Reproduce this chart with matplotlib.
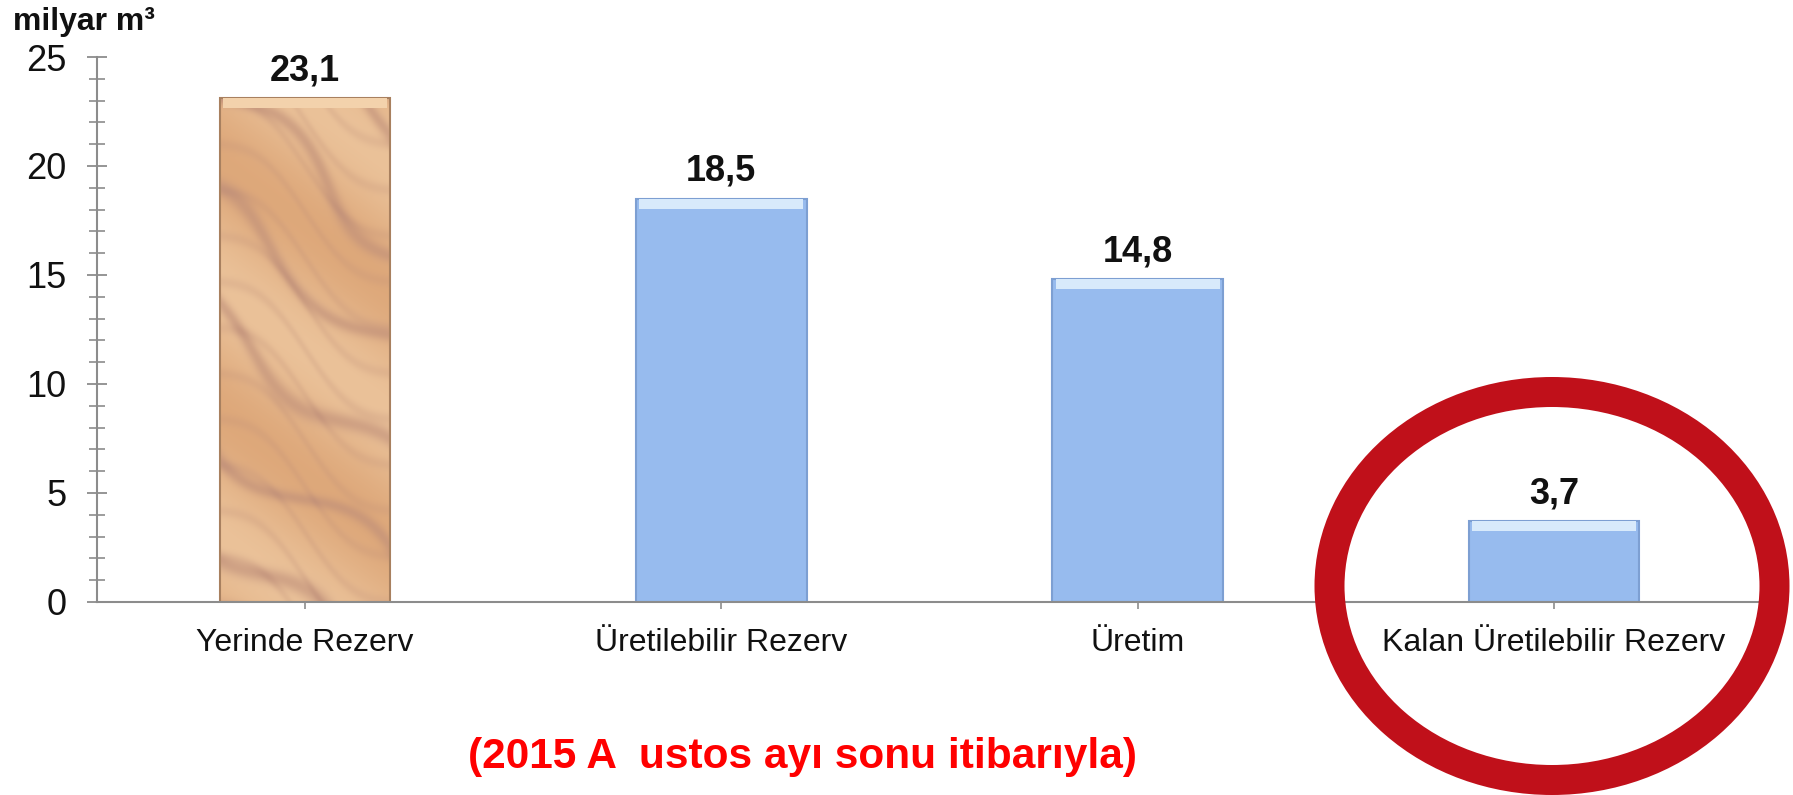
import numpy as np
import matplotlib
matplotlib.use('Agg')
import matplotlib.pyplot as plt
from matplotlib.patches import Ellipse

plt.rcParams['font.family'] = ['Liberation Sans', 'DejaVu Sans']

categories = ['Yerinde Rezerv', 'Üretilebilir Rezerv', 'Üretim', 'Kalan Üretilebilir Rezerv']
values = [23.1, 18.5, 14.8, 3.7]
value_labels = ['23,1', '18,5', '14,8', '3,7']
y_ticks = [0, 5, 10, 15, 20, 25]
unit_label = 'milyar m³'
note = '(2015 A  ustos ayı sonu itibarıyla)'


def sandstone(h=520, w=200):
    # decorative sandstone texture for the first bar: thin wavy veins on tan
    yy, xx = np.mgrid[0:h, 0:w]
    u = yy / h
    v = xx / w
    phase = 4.5 * u - 1.2 * v + 0.22 * np.sin(2 * np.pi * (0.6 * v + 0.9 * u)) \
        + 0.06 * np.sin(2 * np.pi * 2.5 * u)
    veins = (0.5 + 0.5 * np.cos(2 * np.pi * phase)) ** 14
    soft = 0.5 + 0.5 * np.sin(2 * np.pi * (2.0 * u - 0.5 * v))
    fine = (0.5 + 0.5 * np.cos(2 * np.pi * (11 * u - 3 * v + 0.4 * np.sin(2 * np.pi * v)))) ** 6
    light = np.array([0.92, 0.76, 0.60])
    mid = np.array([0.87, 0.66, 0.48])
    dark = np.array([0.74, 0.55, 0.47])
    img = light * (1 - soft[..., None]) + mid * soft[..., None]
    t = 0.55 * veins[..., None] + 0.2 * fine[..., None]
    img = img * (1 - t) + dark * t
    return np.clip(img, 0, 1)


fig = plt.figure(figsize=(17.93, 7.95), dpi=100)
ax = fig.add_axes([0.0541, 0.2428, 0.9286, 0.6855])

x = np.arange(len(categories))
width = 0.41
bevel = 0.45
face = ['none', '#97BBEE', '#97BBEE', '#97BBEE']
edges = ['#A8805F', '#7D9FD2', '#7D9FD2', '#7D9FD2']
tops = ['#F3D2AC', '#D8EAFB', '#D8EAFB', '#D8EAFB']

bars = ax.bar(x, values, width=width, color=face, edgecolor=edges, linewidth=1.5, zorder=2)

# texture fill for the first bar
im = ax.imshow(sandstone(), extent=[x[0] - width / 2, x[0] + width / 2, 0, values[0]],
               aspect='auto', zorder=1.5, interpolation='bilinear')
im.set_clip_path(bars[0])

# light bevel on top of each bar
ax.bar(x, [bevel] * len(values), bottom=[v - bevel for v in values], width=width * 0.96,
       color=tops, linewidth=0, zorder=3)

for xi, v, lab in zip(x, values, value_labels):
    ax.annotate(lab, (xi, v), xytext=(0, 13), textcoords='offset points',
                ha='center', va='baseline', fontsize=26, fontweight='bold', color='#111111')

ax.set_xlim(-0.5, 3.5)
ax.set_ylim(0, 25)
ax.set_yticks(y_ticks)
ax.set_yticks(np.arange(0, 26, 1), minor=True)
ax.set_xticks(x)
ax.set_xticklabels(categories)

for s in ['top', 'right']:
    ax.spines[s].set_visible(False)
for s in ['left', 'bottom']:
    ax.spines[s].set_color('#8C8C8C')
    ax.spines[s].set_linewidth(1.5)

ax.tick_params(axis='y', which='major', direction='inout', length=14, width=1.3,
               color='#8C8C8C', labelsize=26, pad=15, labelcolor='#111111')
ax.tick_params(axis='y', which='minor', direction='inout', length=12, width=1.2, color='#8C8C8C')
ax.tick_params(axis='x', which='major', direction='out', length=5, width=1.2,
               color='#8C8C8C', labelsize=23, pad=14, labelcolor='#111111')

fig.text(13 / 1793, 1 - 30 / 795, unit_label, fontsize=23, fontweight='bold',
         ha='left', va='baseline', color='#111111')
fig.text(803 / 1793, 1 - 757 / 795, note, fontsize=30.5, fontweight='bold',
         color='#FF0000', ha='center', va='center')

ring = Ellipse((15.52, 2.09), 4.45, 3.88, transform=fig.dpi_scale_trans,
               fill=False, edgecolor='#C0101A', linewidth=21.6, zorder=5)
fig.add_artist(ring)

fig.savefig('out.png', dpi=100, facecolor='white')
